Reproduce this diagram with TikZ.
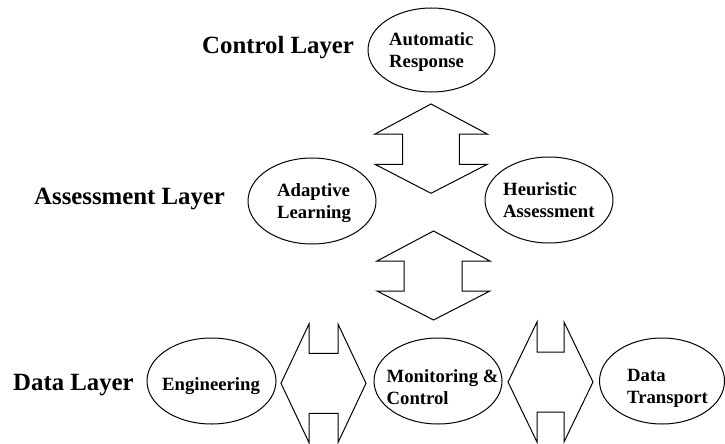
\documentclass[tikz,border=0pt]{standalone}
\usepackage{fontspec}
\setmainfont{Liberation Serif}
\usetikzlibrary{shapes.geometric}
\tikzset{
  oval/.style={draw, ellipse, line width=1pt, inner sep=0pt},
  otext/.style={anchor=north west, inner sep=0pt, align=left, font=\bfseries\fontsize{18.7}{22}\selectfont},
  ltext/.style={anchor=base west, inner sep=0pt, font=\bfseries\fontsize{24.8}{28}\selectfont},
  arr/.style={draw, line width=1pt, line join=miter},
}
% vertical double arrow: cx, tip top, base1, base2, tip bottom, head left, shaft left, shaft right, head right
\newcommand{\vdarrow}[9]{%
  \draw[arr] (#1,#2) -- (#9,#3) -- (#8,#3) -- (#8,#4) -- (#9,#4) -- (#1,#5)
    -- (#6,#4) -- (#7,#4) -- (#7,#3) -- (#6,#3) -- cycle;}
% horizontal double arrow: cy, left tip, left base, right base, right tip, head top, shaft top, shaft bottom, head bottom
\newcommand{\hdarrow}[9]{%
  \draw[arr] (#2,#1) -- (#3,#6) -- (#3,#7) -- (#4,#7) -- (#4,#6) -- (#5,#1)
    -- (#4,#9) -- (#4,#8) -- (#3,#8) -- (#3,#9) -- cycle;}
\begin{document}
\begin{tikzpicture}[x=1pt,y=-1pt]
\useasboundingbox (0,0) rectangle (725,444);

% layer labels
\node[ltext] (lc) at (202,53) {Control Layer};
\node[ltext] (la) at (34,204) {Assessment Layer};
\node[ltext] (ld) at (13,390) {Data Layer};

% ellipses
\node[oval, minimum width=127pt, minimum height=84pt] (auto) at (431.5,50) {};
\node[oval, minimum width=128pt, minimum height=86pt] (adapt) at (312,201) {};
\node[oval, minimum width=128pt, minimum height=86pt] (heur) at (549,200) {};
\node[oval, minimum width=129pt, minimum height=86pt] (eng) at (211.5,381) {};
\node[oval, minimum width=128pt, minimum height=86pt] (mon) at (438,381) {};
\node[oval, minimum width=125pt, minimum height=86pt] (dt) at (662,381) {};

% ellipse texts
\node[otext] (tauto) at (389,32.7) {Automatic\\Response};
\node[otext] (tadapt) at (277,183.2) {Adaptive\\Learning};
\node[otext] (theur) at (503,182.2) {Heuristic\\Assessment};
\node[otext, anchor=base west] (teng) at (162,390) {Engineering};
\node[otext] (tmon) at (386.5,369.2) {Monitoring \&\\Control};
\node[otext] (tdt) at (627,369.5) {Data\\Transport};

% double arrows
\vdarrow{431}{104}{134}{164.3}{193.3}{375}{402.7}{459.3}{487.3}
\vdarrow{433.5}{231}{261}{291}{320}{377}{404}{462}{490}
\hdarrow{383.3}{281}{309}{338}{366}{324}{353.3}{413.3}{442.6}
\hdarrow{382}{508}{537}{564}{593}{322}{352}{412}{442}
\end{tikzpicture}
\end{document}
